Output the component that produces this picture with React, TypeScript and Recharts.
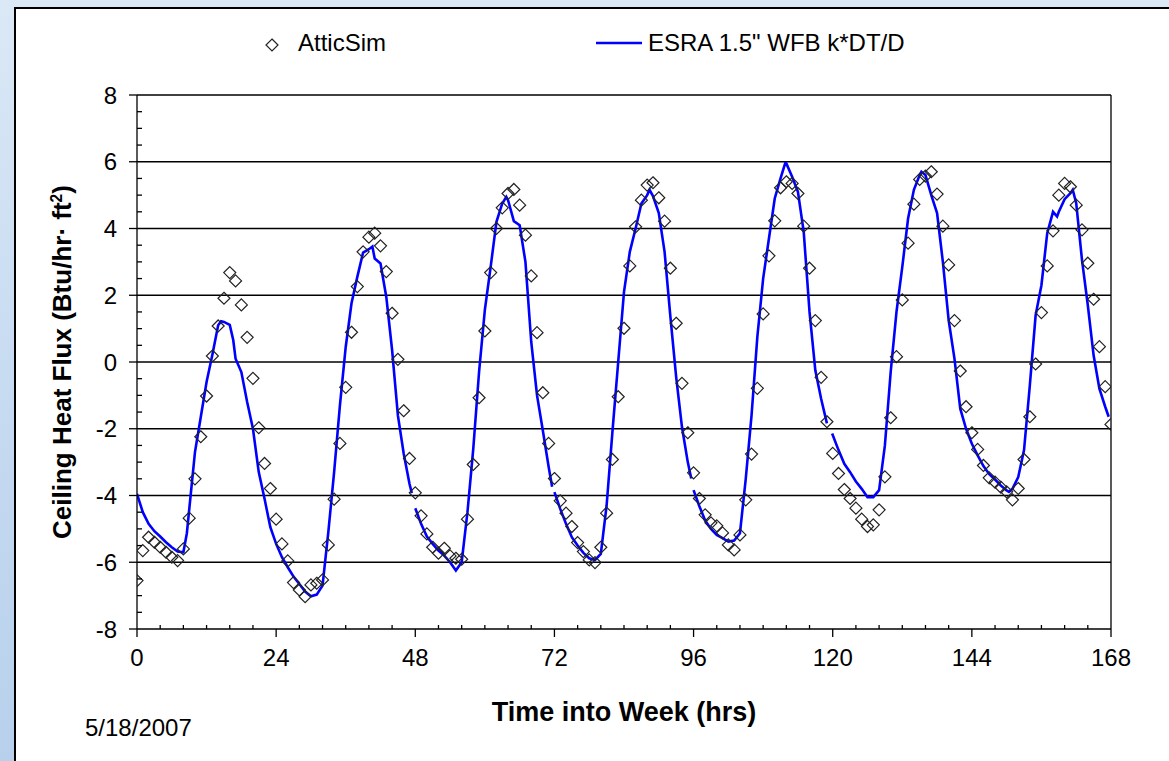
import React from 'react';
import { ComposedChart, Line, Scatter, XAxis, YAxis, ReferenceLine } from 'recharts';

// AtticSim hourly ceiling heat flux (Btu/hr·ft²), hours 0..168
const simHours: number[] = [
  0, 1, 2, 3, 4, 5, 6, 7, 8, 9, 10, 11, 12, 13, 14, 15, 16, 17, 18, 19, 20, 21, 22, 23,
  24, 25, 26, 27, 28, 29, 30, 31, 32, 33, 34, 35, 36, 37, 38, 39, 40, 41, 42, 43, 44, 45, 46, 47,
  48, 49, 50, 51, 52, 53, 54, 55, 56, 57, 58, 59, 60, 61, 62, 63, 64, 65, 66, 67, 68, 69, 70, 71,
  72, 73, 74, 75, 76, 77, 78, 79, 80, 81, 82, 83, 84, 85, 86, 87, 88, 89, 90, 91, 92, 93, 94, 95,
  96, 97, 98, 99, 100, 101, 102, 103, 104, 105, 106, 107, 108, 109, 110, 111, 112, 113, 114, 115, 116, 117, 118, 119,
  120, 121, 122, 123, 124, 125, 126, 127, 128, 129, 130, 131, 132, 133, 134, 135, 136, 137, 138, 139, 140, 141, 142, 143,
  144, 145, 146, 147, 148, 149, 150, 151, 152, 153, 154, 155, 156, 157, 158, 159, 160, 161, 162, 163, 164, 165, 166, 167,
  168,
];
const simFlux: number[] = [
  -6.55, -5.65, -5.25, -5.4, -5.55, -5.7, -5.85, -5.95, -5.6, -4.68, -3.5, -2.24, -1.02, 0.18, 1.08, 1.91, 2.68, 2.43, 1.71, 0.74, -0.49, -1.97, -3.04, -3.79,
  -4.71, -5.45, -5.96, -6.61, -6.83, -7.03, -6.68, -6.63, -6.53, -5.48, -4.11, -2.44, -0.76, 0.89, 2.26, 3.3, 3.74, 3.86, 3.48, 2.71, 1.46, 0.08, -1.46, -2.89,
  -3.92, -4.61, -5.15, -5.55, -5.73, -5.58, -5.81, -5.88, -5.91, -4.71, -3.07, -1.07, 0.93, 2.68, 4.0, 4.62, 5.05, 5.17, 4.7, 3.8, 2.58, 0.88, -0.92, -2.44,
  -3.49, -4.16, -4.53, -4.93, -5.41, -5.68, -5.93, -6.01, -5.55, -4.53, -2.92, -1.04, 1.01, 2.88, 4.05, 4.85, 5.3, 5.37, 4.92, 4.22, 2.81, 1.16, -0.64, -2.12,
  -3.32, -4.09, -4.58, -4.82, -4.91, -5.12, -5.48, -5.63, -5.18, -4.13, -2.76, -0.79, 1.44, 3.18, 4.23, 5.22, 5.4, 5.35, 5.05, 4.07, 2.81, 1.24, -0.46, -1.79,
  -2.74, -3.34, -3.82, -4.09, -4.38, -4.71, -4.93, -4.88, -4.43, -3.44, -1.67, 0.16, 1.86, 3.56, 4.73, 5.47, 5.57, 5.7, 5.03, 4.07, 2.91, 1.24, -0.27, -1.34,
  -2.12, -2.62, -3.1, -3.47, -3.6, -3.75, -3.89, -4.13, -3.79, -2.92, -1.64, -0.06, 1.48, 2.88, 3.93, 5.0, 5.35, 5.25, 4.7, 3.96, 2.96, 1.88, 0.46, -0.74,
  -1.87,
];

// ESRA 1.5" WFB k*DT/D model; null marks the breaks between daily runs
const esraHours: number[] = [
  0, 1, 2, 3, 4, 5, 6, 7, 8, 8.6, 9, 10, 11, 12, 13, 14, 14.5, 15, 16, 16.6, 17, 18, 19, 20, 21, 22, 23,
  24, 25, 26, 27, 28, 29, 30, 31, 32, 32.5, 33, 34, 35, 36, 37, 38, 39, 40, 40.6, 41, 42, 43, 44, 45, 46, 47, 47.4, 47.7,
  48, 49, 50, 51, 52, 53, 54, 55, 56, 57, 58, 59, 60, 61, 62, 63, 63.7, 64, 65, 66, 67, 68, 69, 70, 71, 71.6, 71.8,
  72, 73, 74, 75, 76, 77, 78, 79, 80, 81, 82, 83, 84, 85, 86, 87, 88, 88.4, 89, 90, 91, 92, 93, 94, 95, 95.6, 95.8,
  96, 97, 98, 99, 100, 101, 102, 103, 104, 105, 106, 107, 108, 109, 110, 111, 111.8, 112, 113, 114, 115, 116, 117, 118, 119, 119.4,
  119.9, 121, 122, 123, 124, 125, 126, 127, 128, 129, 130, 131, 132, 133, 134, 135, 135.3, 136, 137, 138, 139, 140, 141, 142, 143,
  144, 145, 146, 147, 148, 149, 150, 150.4, 151, 152, 153, 154, 155, 156, 157, 158, 158.7, 159, 160, 161, 161.4, 162, 163, 164, 165, 166, 167, 167.6,
];
const esraFlux: (number | null)[] = [
  -3.95, -4.5, -4.85, -5.07, -5.23, -5.4, -5.55, -5.68, -5.7, -5.13, -4.43, -2.7, -1.65, -0.6, 0.22, 1.1, 1.22, 1.2, 1.11, 0.66, 0.1, -0.3, -1.2, -2.0, -3.3, -4.1, -4.95,
  -5.45, -5.85, -6.15, -6.43, -6.65, -6.88, -7.02, -6.97, -6.7, -5.9, -5.1, -3.3, -1.3, 0.45, 1.76, 2.55, 3.28, 3.38, 3.46, 3.1, 2.95, 1.95, 0.36, -1.6, -2.74, -3.65, -3.93, null,
  -4.38, -4.85, -5.23, -5.45, -5.65, -5.8, -6.0, -6.25, -6.0, -4.5, -2.6, -0.3, 1.56, 2.85, 4.2, 4.75, 4.95, 4.85, 4.22, 4.1, 3.0, 0.6, -1.0, -2.05, -3.14, -3.74, null,
  -3.9, -4.4, -4.85, -5.25, -5.5, -5.72, -5.88, -5.93, -5.75, -4.3, -2.1, 0.0, 2.1, 3.3, 4.0, 4.75, 5.0, 5.16, 4.97, 4.46, 3.3, 1.36, -0.45, -1.95, -3.0, -3.49, null,
  -3.84, -4.32, -4.75, -5.0, -5.18, -5.28, -5.38, -5.35, -5.13, -3.5, -1.6, 0.75, 2.5, 3.7, 4.9, 5.5, 5.95, 5.95, 5.55, 5.1, 3.9, 1.5, -0.25, -1.1, -1.84, null,
  -2.14, -2.64, -3.05, -3.3, -3.58, -3.8, -4.05, -4.05, -3.84, -2.5, -0.3, 1.5, 2.85, 4.3, 5.16, 5.6, 5.7, 5.6, 5.0, 4.46, 3.0, 1.25, 0.1, -1.4, -2.0,
  -2.45, -2.8, -3.12, -3.36, -3.52, -3.7, -3.85, -3.89, -3.8, -3.45, -2.64, -0.7, 1.4, 2.3, 3.86, 4.5, 4.36, 4.5, 4.88, 5.06, 5.16, 4.76, 3.05, 1.7, 0.2, -0.8, -1.34, -1.64,
];

const xMajorTicks = [0, 24, 48, 72, 96, 120, 144, 168];
const yMajorTicks = [-8, -6, -4, -2, 0, 2, 4, 6, 8];
// minor tick marks: every 4 hrs and every 0.5 flux unit
const xTicks = Array.from({ length: 43 }, (_, i) => i * 4);
const yTicks = Array.from({ length: 33 }, (_, i) => -8 + i * 0.5);

const simData = simHours.map((h, i) => ({ h, flux: simFlux[i] }));
const esraData = esraHours.map((h, i) => ({ h, flux: esraFlux[i] }));

const FONT = '"Liberation Sans", Arial, sans-serif';

const XTick = (props: any) => {
  const { x, y, payload } = props;
  if (xMajorTicks.includes(payload.value)) {
    return (
      <g>
        <line x1={x} y1={y} x2={x} y2={y + 8} stroke="#000" strokeWidth={1.3} />
        <text x={x} y={y + 37} textAnchor="middle" fontSize={24} fontFamily={FONT} fill="#000">
          {payload.value}
        </text>
      </g>
    );
  }
  return <line x1={x} y1={y} x2={x} y2={y - 4} stroke="#000" strokeWidth={1.3} />;
};

const YTick = (props: any) => {
  const { x, y, payload } = props;
  if (yMajorTicks.includes(payload.value)) {
    return (
      <g>
        <line x1={x - 8} y1={y} x2={x} y2={y} stroke="#000" strokeWidth={1.3} />
        <text x={x - 20} y={y} dy="0.36em" textAnchor="end" fontSize={24} fontFamily={FONT} fill="#000">
          {payload.value}
        </text>
      </g>
    );
  }
  return <line x1={x} y1={y} x2={x + 5} y2={y} stroke="#000" strokeWidth={1.3} />;
};

const Diamond = (props: any) => {
  const { cx, cy } = props;
  if (cx == null || cy == null) return null;
  const r = 6;
  return (
    <path
      d={`M${cx},${cy - r}L${cx + r},${cy}L${cx},${cy + r}L${cx - r},${cy}Z`}
      fill="none"
      stroke="#222"
      strokeWidth={1.2}
    />
  );
};

export default function App() {
  return (
    <div
      style={{
        position: 'absolute',
        left: 0,
        top: 0,
        width: 1169,
        height: 761,
        overflow: 'hidden',
        background: 'linear-gradient(180deg, #dbe8f6 0%, #c7dbf1 50%, #b8d0ec 100%)',
        fontFamily: FONT,
      }}
    >
      <div
        style={{
          position: 'absolute',
          left: 14,
          top: 7,
          width: 1200,
          height: 800,
          background: '#fff',
          borderLeft: '2px solid #000',
          borderTop: '2px solid #000',
        }}
      />

      {/* legend */}
      <svg style={{ position: 'absolute', left: 262, top: 35 }} width={20} height={20}>
        <path d="M10,4L16,10L10,16L4,10Z" fill="none" stroke="#222" strokeWidth={1.2} />
      </svg>
      <div style={{ position: 'absolute', left: 298, top: 31, fontSize: 24, lineHeight: 1, color: '#000' }}>
        AtticSim
      </div>
      <svg style={{ position: 'absolute', left: 596, top: 33 }} width={46} height={20}>
        <line x1={0} y1={10} x2={46} y2={10} stroke="#0000ff" strokeWidth={2.4} />
      </svg>
      <div style={{ position: 'absolute', left: 648, top: 31, fontSize: 24, lineHeight: 1, color: '#000' }}>
        ESRA 1.5" WFB k*DT/D
      </div>

      <div style={{ position: 'absolute', left: 0, top: 0 }}>
        <ComposedChart
          width={1169}
          height={761}
          margin={{ top: 95, right: 58, bottom: 92, left: 97 }}
        >
          <XAxis
            type="number"
            dataKey="h"
            domain={[0, 168]}
            ticks={xTicks}
            interval={0}
            allowDataOverflow
            height={40}
            tickSize={0}
            tickMargin={0}
            tickLine={false}
            axisLine={{ stroke: '#000', strokeWidth: 1.3 }}
            tick={<XTick />}
          />
          <YAxis
            type="number"
            domain={[-8, 8]}
            ticks={yTicks}
            interval={0}
            allowDataOverflow
            width={40}
            tickSize={0}
            tickMargin={0}
            tickLine={false}
            axisLine={{ stroke: '#000', strokeWidth: 1.3 }}
            tick={<YTick />}
          />
          {yMajorTicks.filter((v) => v > -8).map((v) => (
            <ReferenceLine key={v} y={v} stroke="#000" strokeWidth={1.3} />
          ))}
          <ReferenceLine x={168} stroke="#000" strokeWidth={1.3} />
          <Scatter
            data={simData}
            dataKey="flux"
            shape={<Diamond />}
            isAnimationActive={false}
          />
          <Line
            data={esraData}
            dataKey="flux"
            type="linear"
            stroke="#0000ff"
            strokeWidth={2.6}
            dot={false}
            activeDot={false}
            connectNulls={false}
            isAnimationActive={false}
          />
        </ComposedChart>
      </div>

      <div
        style={{
          position: 'absolute',
          left: 62,
          top: 362,
          transform: 'translate(-50%, -50%) rotate(-90deg)',
          whiteSpace: 'nowrap',
          fontSize: 26,
          fontWeight: 'bold',
          lineHeight: 1,
          color: '#000',
        }}
      >
        Ceiling Heat Flux (Btu/hr· ft<sup style={{ fontSize: '0.6em' }}>2</sup>)
      </div>
      <div
        style={{
          position: 'absolute',
          left: 624,
          top: 712,
          transform: 'translate(-50%, -50%)',
          whiteSpace: 'nowrap',
          fontSize: 27,
          fontWeight: 'bold',
          lineHeight: 1,
          color: '#000',
        }}
      >
        Time into Week (hrs)
      </div>
      <div style={{ position: 'absolute', left: 85, top: 716, fontSize: 24, lineHeight: 1, color: '#000' }}>
        5/18/2007
      </div>
    </div>
  );
}
